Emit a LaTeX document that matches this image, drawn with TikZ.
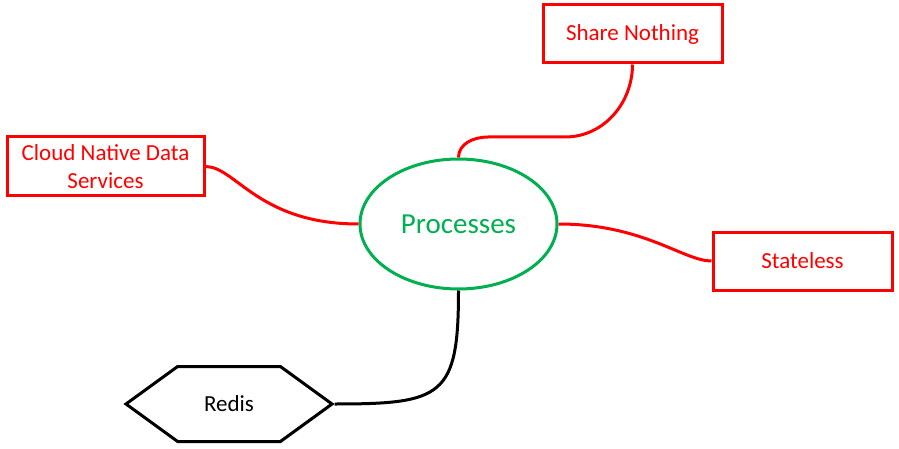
\documentclass[tikz,border=0pt]{standalone}
\usepackage{fontspec}
\setmainfont{Carlito}
\usetikzlibrary{positioning}
\usetikzlibrary{shapes.geometric}
\usetikzlibrary{shapes.symbols}
\usetikzlibrary{shadows}
\definecolor{ppred}{rgb}{1,0,0}
\definecolor{ppgreen}{rgb}{0,.690,.314}

\begin{document}
\begin{tikzpicture}[x=1pt, y=-1pt, align=center,
	boxnode/.style={rectangle,draw=ppred,fill=white,line width=3pt,text=ppred,font=\fontsize{23}{28}\selectfont,drop shadow={opacity=.18,shadow xshift=1.5pt,shadow yshift=-1.5pt}},
	ellnode/.style={ellipse,draw=ppgreen,fill=white,line width=3pt,text=ppgreen,font=\fontsize{29}{34}\selectfont},
	hexnode/.style={signal,signal to=west and east,signal pointer angle=72,draw=black,fill=white,line width=3pt,font=\fontsize{23}{28}\selectfont,drop shadow={opacity=.18,shadow xshift=1.5pt,shadow yshift=-1.5pt}},
	redline/.style={draw=ppred,line width=3pt},
	blkline/.style={draw=black,line width=3pt}]
	\useasboundingbox (0,0) rectangle (899,449);
	% \draw[help lines] (0,0) grid[step=50] (899,449);
	\node[ellnode,minimum width=197pt,minimum height=130pt](proc) at (458.5,224){Processes};
	\node[boxnode,minimum width=179pt,minimum height=58pt](share) at (632.5,34){Share Nothing};
	\node[boxnode,minimum width=197pt,minimum height=59pt](cloud) at (105.5,166.5){Cloud Native Data\\Services};
	\node[boxnode,minimum width=179pt,minimum height=58pt](state) at (802.5,261){Stateless};
	\node[hexnode,minimum width=206pt,minimum height=75pt](redis) at (229,404){Redis};
	\coordinate (snbend) at (488,137);
	\coordinate (snturn) at (565,137);
	\draw[redline] (proc.north) to[out=90,in=180] (snbend) -- (snturn) to[out=0,in=-90] (share.south);
	\draw[redline] (cloud.east) .. controls +(30,0) and +(-100,0) .. (proc.west);
	\draw[redline] (proc.east) .. controls +(85,0) and +(-28,0) .. (state.west);
	\draw[blkline] (proc.south) .. controls +(0,106) and +(108,0) .. (redis.east);
\end{tikzpicture}
\end{document}
